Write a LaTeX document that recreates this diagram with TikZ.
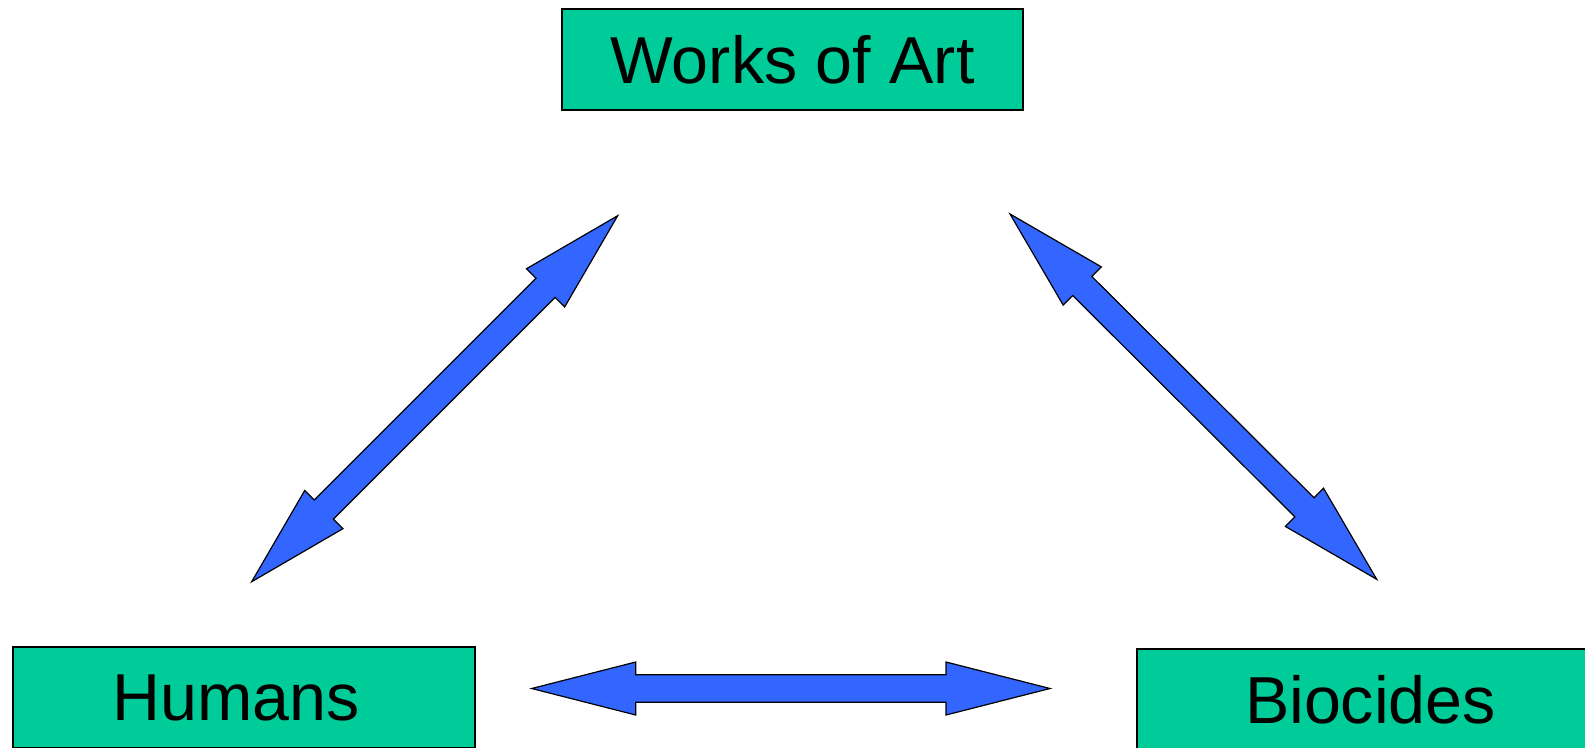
\documentclass[tikz,border=0pt]{standalone}
\usepackage{fontspec}
\setmainfont{Liberation Sans}
\usetikzlibrary{calc}
\definecolor{boxgreen}{RGB}{0,204,153}
\definecolor{arrowblue}{RGB}{51,102,255}
\tikzset{
  labelbox/.style={draw=black, line width=1.2pt, fill=boxgreen, minimum height=101pt, inner sep=0pt, font=\fontsize{66.4}{80}\selectfont, text=black},
  blockarrow/.style={draw=black, line width=1.2pt, fill=arrowblue, line join=miter}
}
\newcommand\dblarrow[5]{%
  \coordinate (#1h) at ($(#1)!#3!(#2)$);
  \coordinate (#2h) at ($(#2)!#3!(#1)$);
  \draw[blockarrow] (#1) -- ($(#1h)!#4!90:(#2)$) -- ($(#1h)!#5!90:(#2)$)
    -- ($(#2h)!#5!-90:(#1)$) -- ($(#2h)!#4!-90:(#1)$) -- (#2)
    -- ($(#2h)!#4!90:(#1)$) -- ($(#2h)!#5!90:(#1)$)
    -- ($(#1h)!#5!-90:(#2)$) -- ($(#1h)!#4!-90:(#2)$) -- cycle;
}
\begin{document}
\begin{tikzpicture}[x=1pt,y=-1pt]
\useasboundingbox (0,0) rectangle (1585,747);
\clip (0,0) rectangle (1585,747);
\node[labelbox, minimum width=461pt] (works) at (792.5,59.5) {Works of Art};
\node[labelbox, minimum width=462pt] (humans) at (244,697.5) {\hspace*{-16pt}Humans};
\node[labelbox, minimum width=467pt] (biocides) at (1370.5,699.5) {Biocides};
% arrow end points
\coordinate (la) at (251.7,581.7);
\coordinate (lb) at (617.7,215.7);
\coordinate (ra) at (1010,214);
\coordinate (rb) at (1376.7,579.3);
\coordinate (ba) at (531.7,688.5);
\coordinate (bb) at (1050,688.5);
\dblarrow{la}{lb}{102pt}{27pt}{13.5pt}
\dblarrow{ra}{rb}{102pt}{27pt}{13.5pt}
\dblarrow{ba}{bb}{104pt}{26.5pt}{13.7pt}
\end{tikzpicture}
\end{document}
